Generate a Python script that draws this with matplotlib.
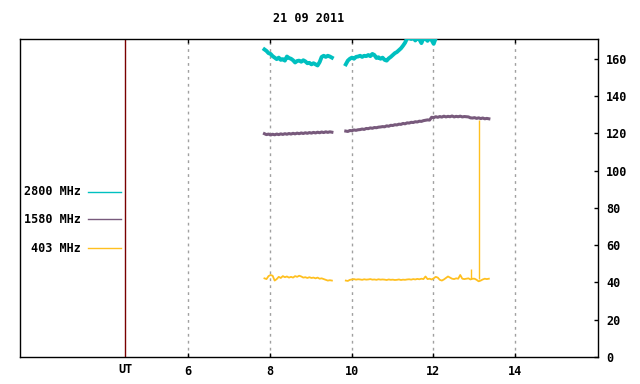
import numpy as np
import matplotlib
matplotlib.use("Agg")
import matplotlib.pyplot as plt
from matplotlib.lines import Line2D

plt.rcParams['font.family'] = ['DejaVu Sans Mono']
plt.rcParams['font.weight'] = 'bold'

title = "21 09 2011"
legend_labels = ["2800 MHz", "1580 MHz", "403 MHz"]
colors = ["#00C0C0", "#785A7C", "#FFC020"]
xticks = [6, 8, 10, 12, 14]
yticks = [0, 20, 40, 60, 80, 100, 120, 140, 160]
ut_line = 4.46

# sampling times (UT hours)
t_a = np.round(np.arange(7.87, 9.53, 0.05), 2)          # first session
t_b = np.round(np.arange(9.86, 13.37, 0.05), 2)         # second session

# 2800 MHz (off-scale after ~12.1 UT)
v2800_a = [165, 164.2, 163, 162.6, 161.4, 160.6, 159.8, 160.6, 159.4, 159.8,
           159.0, 161.2, 160.4, 160.0, 159.2, 158.0, 158.8, 159.0, 158.4, 159.2,
           158.6, 157.6, 157.8, 157.0, 157.6, 157.0, 156.4, 158.2, 161.0, 161.6,
           161.0, 161.6, 161.2, 160.6]
v2800_b = [157.0, 159.0, 160.0, 160.6, 160.0, 161.0, 161.2, 161.6, 161.0, 161.6,
           161.4, 162.0, 161.4, 162.6, 162.0, 160.4, 160.8, 160.0, 160.6, 159.4,
           159.0, 160.2, 161.0, 162.0, 163.0, 163.6, 164.6, 165.6, 167.0, 168.6,
           171.0, 171.2, 170.6, 171.4, 169.8, 171.2, 170.4, 168.4, 171.0, 170.8,
           169.6, 171.2, 170.0, 168.0, 171.0, 175.0]

v1580_a = [119.8, 119.3, 119.6, 119.1, 119.5, 119.2, 119.6, 119.3, 119.7, 119.4,
           119.8, 119.5, 119.9, 119.6, 120.0, 119.7, 120.1, 119.8, 120.2, 119.9,
           120.3, 120.0, 120.4, 120.1, 120.5, 120.2, 120.6, 120.3, 120.7, 120.4,
           120.8, 120.5, 120.8, 120.6]
v1580_b = [121.2, 121.0, 121.5, 121.4, 121.8, 121.6, 121.9, 122.0, 122.3, 122.1,
           122.6, 122.5, 122.9, 122.7, 123.1, 123.0, 123.3, 123.4, 123.6, 123.5,
           124.0, 123.8, 124.3, 124.2, 124.6, 124.5, 124.9, 124.8, 125.3, 125.1,
           125.6, 125.5, 125.9, 125.8, 126.2, 126.1, 126.5, 126.4, 126.8, 127.0,
           127.2, 127.1, 128.6, 128.4, 128.9, 128.6, 129.0, 128.7, 129.2, 128.8,
           129.1, 128.9, 129.3, 128.8, 129.1, 128.9, 129.2, 128.8, 129.0, 128.9,
           128.8, 128.3, 128.2, 128.4, 128.0, 128.3, 127.9, 128.2, 127.8, 128.0,
           127.8]

v403_a = [42.2, 41.8, 43.4, 44.0, 43.6, 41.0, 41.8, 43.0, 42.4, 43.4,
          42.8, 43.2, 42.6, 43.0, 42.6, 43.4, 43.0, 43.6, 43.2, 42.6,
          42.8, 42.4, 42.8, 42.4, 42.6, 42.2, 42.6, 42.0, 42.2, 41.8,
          41.4, 41.0, 41.2, 41.0]
v403_b = [41.0, 40.8, 41.4, 41.6, 41.8, 41.5, 41.7, 41.6, 41.4, 41.7,
          41.5, 41.6, 41.8, 41.5, 41.6, 41.4, 41.7, 41.5, 41.6, 41.5,
          41.3, 41.6, 41.4, 41.5, 41.3, 41.4, 41.6, 41.3, 41.5, 41.4,
          41.6, 41.7, 41.5, 41.8, 41.6, 41.9, 41.7, 42.0, 41.8, 43.2,
          41.8, 42.0, 41.6, 42.2, 43.0, 42.6, 41.4, 41.0, 41.6, 42.4,
          43.2, 42.6, 42.0, 41.8, 42.2, 42.0, 44.0, 42.0, 41.8, 42.0,
          42.2, 41.6, 42.0, 42.0, 41.4, 40.6, 41.0, 41.6, 42.0, 41.8,
          42.0]
spike_t = [12.93, 13.12]
spike_base = [42.0, 42.0]
spike_v = [47.0, 127.0]

fig = plt.figure(figsize=(6.4, 3.84), dpi=100)
ax = fig.add_axes([20/640, 1-357/384, 578/640, 318/384])
ax.set_xlim(1.89, 16.03)
ax.set_ylim(0, 170.6)

for x in xticks:
    ax.axvline(x, color="#A0A0A0", lw=1, ls=(0, (2, 3)), zorder=1)
ax.axvline(ut_line, color="#7A0000", lw=1, zorder=2)

ax.plot(t_a, v2800_a, color=colors[0], lw=2.8, zorder=3)
ax.plot(t_b[:len(v2800_b)], v2800_b, color=colors[0], lw=2.8, zorder=3)
ax.plot(t_a, v1580_a, color=colors[1], lw=2.2, zorder=3)
ax.plot(t_b, v1580_b, color=colors[1], lw=2.2, zorder=3)
ax.plot(t_a, v403_a, color=colors[2], lw=1.3, zorder=4)
ax.plot(t_b, v403_b, color=colors[2], lw=1.3, zorder=4)
ax.vlines(spike_t, spike_base, spike_v, color=colors[2], lw=1.0, zorder=4)

ax.set_xticks(xticks)
ax.set_xticklabels([str(x) for x in xticks])
ax.set_yticks(yticks)
ax.set_yticklabels([str(y) for y in yticks])
ax.yaxis.tick_right()
ax.tick_params(axis='x', direction='in', length=3, width=1, top=True, bottom=True,
               labelsize=8.5, pad=6)
ax.tick_params(axis='y', direction='in', length=3, width=1, right=True, left=False,
               labelsize=8.5, pad=6)
for s in ax.spines.values():
    s.set_linewidth(1.0)

ax.text(ut_line, -0.018, "UT", transform=ax.get_xaxis_transform(), ha='center', va='top',
        fontsize=8.5, fontweight='bold')

fig.text(309/640, 1-19/384, title, ha='center', va='center', fontsize=8.5, fontweight='bold')

ys = [191.7, 219.3, 248.3]
for lab, c, y in zip(legend_labels, colors, ys):
    fig.text(81/640, 1-y/384, lab, ha='right', va='center', fontsize=8.5, fontweight='bold')
    fig.add_artist(Line2D([88/640, 121/640], [1-y/384, 1-y/384], color=c, lw=1.0,
                          transform=fig.transFigure))

fig.savefig("out.png", dpi=100)
